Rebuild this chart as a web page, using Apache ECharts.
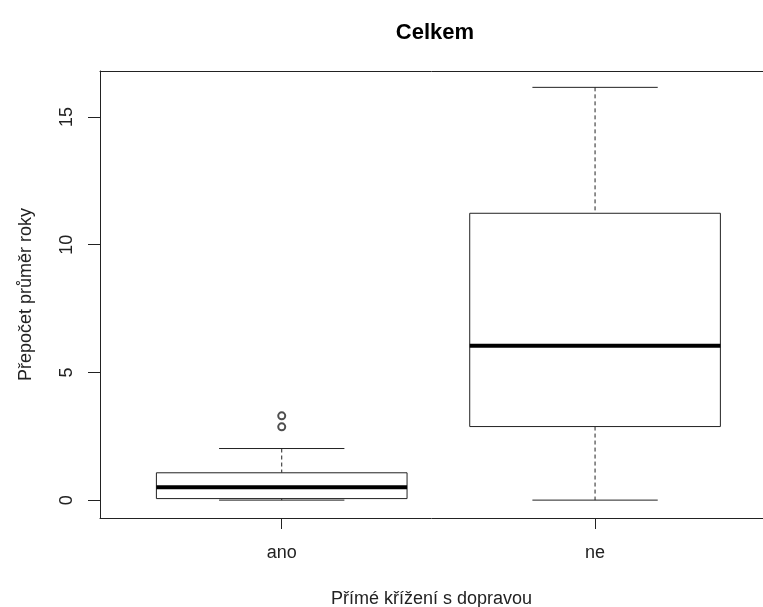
<!DOCTYPE html>
<html>
<head>
<meta charset="utf-8">
<script src="https://cdn.jsdelivr.net/npm/echarts@6/dist/echarts.min.js"></script>
<style>html,body{margin:0;padding:0;background:#fff}#c{width:763px;height:607px}</style>
</head>
<body>
<div id="c"></div>
<script>
// Data
const categories = ["ano", "ne"];
const lowWhisker = [0.0, 0.0];
const q1 = [0.06, 2.88];
const median = [0.50, 6.04];
const q3 = [1.07, 11.23];
const highWhisker = [2.02, 16.16];
const outlierCat = [1, 1];
const outlierVal = [3.30, 2.87];
const yTicks = [0, 5, 10, 15];

const FONT = "Liberation Sans";
const INK = "#222";

const boxData = categories.map((c, i) => [i + 1, lowWhisker[i], q1[i], median[i], q3[i], highWhisker[i]]);
const outData = outlierCat.map((c, i) => [c, outlierVal[i]]);

function renderBox(params, api) {
  const x = api.value(0);
  const lo = api.value(1), a = api.value(2), m = api.value(3), b = api.value(4), hi = api.value(5);
  const hw = 0.4, cw = 0.2;
  const pL = api.coord([x - hw, b]), pR = api.coord([x + hw, a]);
  const cL = api.coord([x - cw, hi])[0], cR = api.coord([x + cw, hi])[0];
  const cx = api.coord([x, m])[0];
  const yLo = api.coord([x, lo])[1], yA = api.coord([x, a])[1], yM = api.coord([x, m])[1], yB = api.coord([x, b])[1], yHi = api.coord([x, hi])[1];
  const line = (x1, y1, x2, y2, extra) => ({
    type: 'line', shape: {x1, y1, x2, y2},
    style: Object.assign({stroke: INK, lineWidth: 1}, extra || {})
  });
  return {
    type: 'group',
    children: [
      line(cx, yHi, cx, yB, {lineDash: [4, 3]}),
      line(cx, yA, cx, yLo, {lineDash: [4, 3]}),
      line(cL, yHi, cR, yHi),
      line(cL, yLo, cR, yLo),
      {type: 'rect', shape: {x: pL[0], y: yB, width: pR[0] - pL[0], height: yA - yB},
       style: {fill: '#fff', stroke: INK, lineWidth: 1}},
      line(pL[0], yM, pR[0], yM, {lineWidth: 4, stroke: '#000'})
    ]
  };
}

const chart = echarts.init(document.getElementById('c'));
chart.setOption({
  animation: false,
  backgroundColor: '#fff',
  title: {
    text: 'Celkem', left: 430, top: 17, textAlign: 'center',
    textStyle: {fontFamily: FONT, fontSize: 22, fontWeight: 'bold', color: '#000'}
  },
  grid: {left: 100, right: 0, top: 71, bottom: 89, show: false, containLabel: false, outerBoundsMode: 'none'},
  xAxis: [{
    type: 'value', min: 0.42, max: 2.536, position: 'bottom',
    splitLine: {show: false},
    axisLine: {show: true, onZero: false, lineStyle: {color: INK, width: 1}},
    axisTick: {show: true, customValues: [1, 2], length: 11, lineStyle: {color: INK}},
    axisLabel: {customValues: [1, 2], formatter: v => categories[Math.round(v) - 1], margin: 26,
      fontFamily: FONT, fontSize: 18, color: '#222'},
    name: 'Přímé křížení s dopravou', nameLocation: 'middle', nameGap: 72,
    nameTextStyle: {fontFamily: FONT, fontSize: 18, color: '#222'}
  }, {
    type: 'value', min: 0.42, max: 2.536, position: 'top',
    splitLine: {show: false},
    axisLine: {show: true, onZero: false, lineStyle: {color: INK, width: 1}},
    axisTick: {show: false}, axisLabel: {show: false}
  }],
  yAxis: {
    type: 'value', min: -0.70, max: 16.80,
    splitLine: {show: false},
    axisLine: {show: true, onZero: false, lineStyle: {color: INK, width: 1}},
    axisTick: {show: true, customValues: yTicks, length: 12, lineStyle: {color: INK}},
    axisLabel: {customValues: yTicks, rotate: 90, margin: 24, fontFamily: FONT, fontSize: 18, color: '#222'},
    name: 'Přepočet průměr roky', nameLocation: 'middle', nameGap: 65,
    nameTextStyle: {fontFamily: FONT, fontSize: 18, color: '#222'}
  },
  series: [
    {type: 'custom', renderItem: renderBox, data: boxData, encode: {x: 0, y: [1, 2, 3, 4, 5]}, z: 2},
    {type: 'scatter', data: outData, symbol: 'emptyCircle', symbolSize: 7,
     itemStyle: {color: INK, borderColor: INK, borderWidth: 1}, z: 3}
  ]
});
</script>
</body>
</html>
